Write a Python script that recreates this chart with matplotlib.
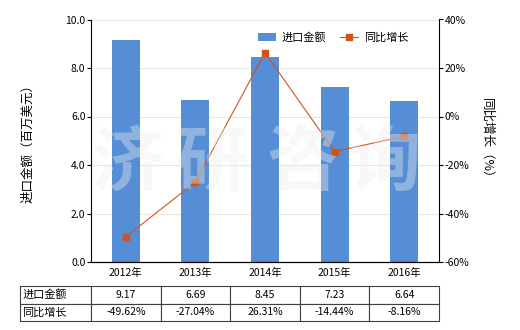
"""Import value (bars) and YoY growth (line) with a data table underneath."""

import matplotlib
matplotlib.use("Agg")
import matplotlib.pyplot as plt

plt.rcParams["font.family"] = ["Noto Sans CJK SC", "DejaVu Sans"]

years = ["2012年", "2013年", "2014年", "2015年", "2016年"]
import_value = [9.17, 6.69, 8.45, 7.23, 6.64]
yoy_growth = [-49.62, -27.04, 26.31, -14.44, -8.16]
row_labels = ["进口金额", "同比增长"]
left_ticks = [0, 2, 4, 6, 8, 10]
right_ticks = [-60, -40, -20, 0, 20, 40]

W, H = 520, 330
fig = plt.figure(figsize=(W / 100, H / 100), dpi=100)
x0, x1, ytop, ybot = 91, 439, 19.5, 262
ax = fig.add_axes([x0 / W, 1 - ybot / H, (x1 - x0) / W, (ybot - ytop) / H])

bar_c = "#558ed5"
line_c = "#d0541a"
fs = 7.5

xs = range(len(years))
ax.bar(xs, import_value, width=0.4, color=bar_c, zorder=2, label="进口金额")
ax.set_xlim(-0.5, len(years) - 0.5)
ax.set_ylim(0, 10)
ax.set_yticks(left_ticks)
ax.set_yticklabels([f"{v:.1f}" for v in left_ticks], fontsize=fs)
ax.set_xticks(list(xs))
ax.set_xticklabels(years, fontsize=fs)
ax.tick_params(axis="x", length=0, pad=4)
ax.tick_params(axis="y", length=3, pad=1)
ax.grid(axis="y", color="#ebe6d6", linewidth=0.8, zorder=0)
ax.set_axisbelow(True)
ax.spines["top"].set_visible(False)
ax.spines["right"].set_visible(False)
ax.set_ylabel("进口金额（百万美元）", fontsize=9, labelpad=22)

ax2 = ax.twinx()
ax2.plot(list(xs), yoy_growth, color=line_c, linewidth=0.8, marker="s",
         markersize=4.5, zorder=3, label="同比增长")
ax2.set_ylim(-60, 40)
ax2.set_yticks(right_ticks)
ax2.set_yticklabels([f"{v}%" for v in right_ticks], fontsize=fs)
ax2.tick_params(axis="y", length=3, pad=1)
ax2.spines["top"].set_visible(False)
ax2.spines["left"].set_visible(False)
ax2.set_ylabel("同比增长（%）", fontsize=9, rotation=270, labelpad=17)

# watermark
for ch, cx in zip("济研咨询", [128, 212, 303, 385]):
    fig.text(cx / W, 1 - 164 / H, ch, fontsize=52, fontweight="bold",
             color="#eeeeee", alpha=0.38, ha="center", va="center", zorder=5)

h1, l1 = ax.get_legend_handles_labels()
h2, l2 = ax2.get_legend_handles_labels()
ax2.legend(h1 + h2, l1 + l2, loc="upper right", bbox_to_anchor=(0.94, 0.99),
           ncol=2, frameon=False, fontsize=8, handlelength=1.6,
           columnspacing=1.3, handletextpad=0.5)

# data table under the axes
cells = [[row_labels[0]] + [f"{v:.2f}" for v in import_value],
         [row_labels[1]] + [f"{v:.2f}%" for v in yoy_growth]]
lab_w = (x0 - 20) / (x1 - x0)
col_w = [lab_w] + [1.0 / len(years)] * len(years)
tb = ax.table(cellText=cells, colWidths=col_w, cellLoc="center",
              bbox=[-lab_w, (ybot - 321) / (ybot - ytop), 1 + lab_w,
                    35 / (ybot - ytop)])
tb.auto_set_font_size(False)
tb.set_fontsize(fs)
for (r, c), cell in tb.get_celld().items():
    cell.set_edgecolor("#404040")
    cell.set_linewidth(0.8)
    if c == 0:
        cell.set_text_props(ha="left", fontsize=8)
        cell._loc = "left"
        cell.PAD = 0.03

fig.savefig("out.png", dpi=100)
